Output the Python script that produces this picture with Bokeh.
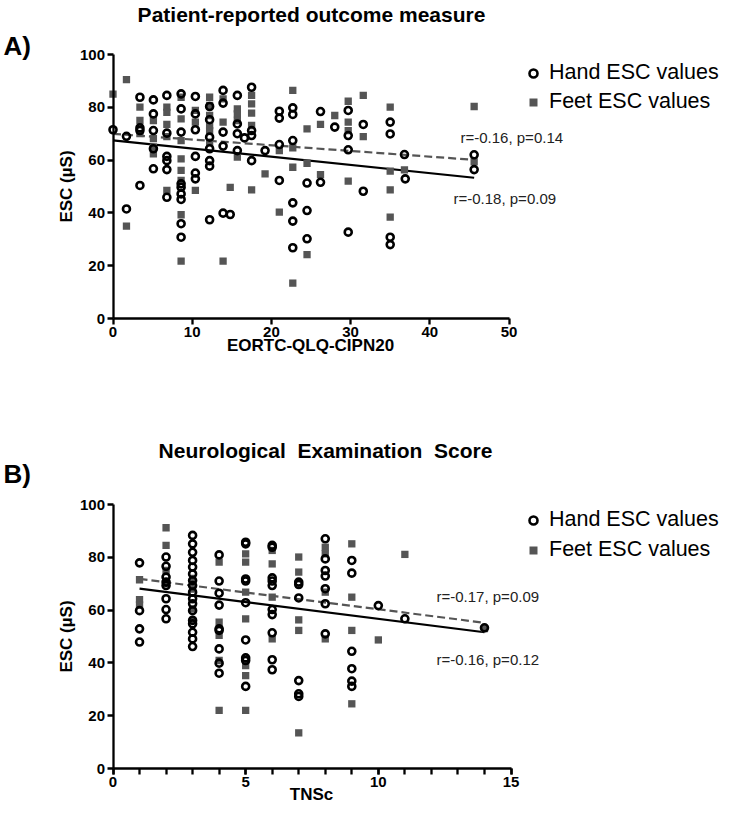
from bokeh.plotting import figure
from bokeh.models import Range1d, FixedTicker, Label, Legend, LegendItem
from bokeh.layouts import column
from bokeh.embed import file_html
from bokeh.resources import INLINE

FONT = "Liberation Sans"

# ---------------- Panel A: EORTC-QLQ-CIPN20 ----------------
a_hand_cols = [
    (0.0, [71.5]),
    (1.7, [69.0, 41.5]),
    (3.4, [83.8, 72.2, 71.2, 50.4]),
    (5.1, [82.8, 77.5, 71.2, 64.3, 56.7]),
    (6.8, [84.5, 70.2, 61.4, 59.8, 56.4, 45.9]),
    (8.6, [85.1, 79.4, 70.6, 51.0, 49.7, 47.2, 45.1, 35.9, 30.8]),
    (10.4, [84.1, 77.5, 71.5, 61.4, 55.1, 52.9]),
    (12.2, [80.3, 75.3, 68.7, 64.3, 59.8, 57.7, 37.4]),
    (13.9, [86.4, 81.6, 70.6, 65.3, 39.9]),
    (14.8, [39.4]),
    (15.7, [84.5, 73.7, 70.0, 63.6]),
    (16.6, [68.4]),
    (17.5, [87.6, 71.2, 69.3, 59.8]),
    (19.2, [63.6]),
    (21.0, [78.5, 75.9, 65.9, 52.3]),
    (22.7, [79.8, 77.3, 67.4, 43.8, 36.9, 26.8]),
    (24.5, [51.3, 40.9, 30.2]),
    (26.2, [78.4, 51.6]),
    (28.0, [72.5]),
    (29.7, [78.8, 69.3, 63.9, 32.7]),
    (31.6, [73.5, 48.2]),
    (35.0, [74.4, 69.9, 30.8, 28.0]),
    (36.8, [62.1]),
    (36.9, [52.9]),
    (45.6, [62.0, 56.4]),
]
a_feet_cols = [
    (0.0, [85.0]),
    (1.7, [90.5, 35.0]),
    (3.4, [80.1, 75.0, 70.0]),
    (5.1, [75.0, 68.1, 64.9, 62.4]),
    (6.8, [80.1, 78.1, 73.5, 68.9, 48.5]),
    (8.6, [83.8, 75.6, 67.4, 60.5, 56.1, 52.3, 39.3, 21.7]),
    (10.4, [78.8, 74.4, 48.5]),
    (12.2, [83.8, 80.7, 76.9, 73.1, 71.2, 66.8]),
    (13.9, [83.2, 74.4, 21.7]),
    (14.8, [49.7]),
    (15.7, [79.4, 77.5, 75.0, 61.1]),
    (17.5, [84.5, 81.3, 77.8, 73.1, 48.7]),
    (19.2, [54.8]),
    (21.0, [63.6, 40.3]),
    (22.7, [86.4, 64.6, 57.3, 13.4]),
    (24.5, [71.8, 58.8, 24.2]),
    (26.2, [73.5, 54.5]),
    (28.0, [76.9]),
    (29.7, [82.3, 74.4, 71.2, 52.0]),
    (31.6, [84.5, 68.9]),
    (35.0, [80.1, 55.8, 48.7, 38.4]),
    (36.8, [56.3]),
    (45.6, [80.3, 59.3]),
]
# regression fits: (intercept, slope, x_start, x_end)
a_fit_hand = (67.5, -0.311, 0.0, 45.6)
a_fit_feet = (69.95, -0.216, 0.0, 45.6)
a_r_hand = "r=-0.18, p=0.09"
a_r_feet = "r=-0.16, p=0.14"
a_x_ticks = [0, 10, 20, 30, 40, 50]
a_x_label = "EORTC-QLQ-CIPN20"
a_title = "Patient-reported outcome measure"

# ---------------- Panel B: TNSc ----------------
b_hand_cols = [
    (1, [77.9, 59.8, 52.9, 47.9]),
    (2, [80.1, 76.6, 72.5, 70.6, 69.3, 64.3, 60.2, 56.7]),
    (3, [88.3, 85.1, 81.9, 78.8, 76.3, 73.7, 71.2, 69.3, 66.8, 64.3, 62.4,
         59.8, 56.1, 54.8, 51.6, 49.1, 46.2]),
    (4, [80.9, 71.0, 66.4, 61.9, 52.9, 52.3, 45.3, 39.9, 36.1]),
    (5, [85.7, 85.1, 71.8, 71.0, 62.8, 48.7, 41.9, 40.9, 31.1]),
    (6, [84.5, 83.8, 72.2, 71.0, 69.3, 60.2, 58.3, 51.4, 41.2, 37.4]),
    (7, [70.6, 69.7, 64.6, 33.3, 28.3, 27.3]),
    (8, [87.0, 79.4, 75.0, 72.9, 68.1, 62.4, 51.0]),
    (9, [78.8, 74.0, 44.4, 37.8, 33.1, 31.1]),
    (10, [61.7]),
    (11, [56.7]),
    (14, [53.3]),
]
b_feet_cols = [
    (1, [71.5, 64.0, 62.0]),
    (2, [91.2, 84.5, 75.0, 70.0]),
    (3, [72.0, 68.0, 60.5, 56.1]),
    (4, [78.2, 55.4, 50.4, 40.9, 22.0]),
    (5, [81.3, 78.2, 66.8, 56.7, 39.0, 35.2, 22.0]),
    (6, [82.6, 77.5, 64.9, 49.1]),
    (7, [80.1, 74.4, 56.3, 52.3, 13.5]),
    (8, [83.8, 81.3, 66.8, 49.1]),
    (9, [85.1, 64.9, 52.3, 24.5]),
    (10, [48.7]),
    (11, [81.1]),
    (14, [53.0]),
]
b_fit_hand = (69.37, -1.269, 1.0, 14.0)
b_fit_feet = (73.08, -1.277, 1.0, 14.0)
b_r_hand = "r=-0.16, p=0.12"
b_r_feet = "r=-0.17, p=0.09"
b_x_ticks = [0, 5, 10, 15]
b_x_minor = list(range(16))
b_x_label = "TNSc"
b_title = "Neurological\u00a0 Examination\u00a0 Score"

y_ticks = [0, 20, 40, 60, 80, 100]
y_label = "ESC (µS)"
legend_labels = ["Hand ESC values", "Feet ESC values"]

PAGE_W = 745


def flatten(cols):
    xs, ys = [], []
    for x, vals in cols:
        for v in vals:
            xs.append(x)
            ys.append(v)
    return xs, ys


def fit_line(fit):
    b0, b1, x0, x1 = fit
    return [x0, x1], [b0 + b1 * x0, b0 + b1 * x1]


def panel(geom, hand_cols, feet_cols, fit_h, fit_f, x_ticks, x_minor,
          x_label, title, letter, r_h, r_f, pos):
    fig_top, fig_h, x0p, y0p, frame_w, x_max_axis = geom
    xu = frame_w / x_max_axis          # px per x unit
    yu = 264 / 100.0                   # px per y unit
    fig_bottom = fig_top + fig_h

    def dx(px):
        return (px - x0p) / xu

    def dy(py):
        return (y0p - py) / yu

    p = figure(width=PAGE_W, height=fig_h,
               x_range=Range1d(dx(0), dx(PAGE_W)),
               y_range=Range1d(dy(fig_bottom), dy(fig_top)),
               output_backend="svg", toolbar_location=None,
               min_border_left=0, min_border_right=0,
               min_border_top=0, min_border_bottom=0)
    p.outline_line_color = None
    p.xgrid.visible = False
    p.ygrid.visible = False
    p.background_fill_color = "white"
    p.border_fill_color = "white"

    p.xaxis.ticker = FixedTicker(ticks=x_ticks, minor_ticks=x_minor)
    p.yaxis.ticker = FixedTicker(ticks=y_ticks, minor_ticks=[])
    p.xaxis.bounds = (0, x_max_axis)
    p.yaxis.bounds = (0, 100)
    p.xaxis.fixed_location = 0
    p.yaxis.fixed_location = 0
    for ax in (p.xaxis[0], p.yaxis[0]):
        ax.axis_line_width = 2.3
        ax.axis_line_color = "black"
        ax.major_tick_line_width = 2.3
        ax.major_tick_out = 6
        ax.major_tick_in = 0
        ax.minor_tick_line_width = 2.3
        ax.minor_tick_out = 6
        ax.minor_tick_in = 0
        ax.major_label_text_font = FONT
        ax.major_label_text_font_size = "15px"
        ax.major_label_text_font_style = "bold"
        ax.major_label_text_color = "black"
        ax.major_label_standoff = 2
    p.yaxis.major_label_orientation = "horizontal"

    lx, ly = fit_line(fit_h)
    p.line(lx, ly, line_color="black", line_width=2.2)
    lx, ly = fit_line(fit_f)
    p.line(lx, ly, line_color="#555555", line_width=2.2, line_dash="8 4")

    fx, fy = flatten(feet_cols)
    sq = p.scatter(fx, fy, marker="square", size=7.3, fill_color="#555555",
                   line_color=None)
    hx, hy = flatten(hand_cols)
    ci = p.scatter(hx, hy, marker="circle", size=7.0, fill_color=None,
                   line_color="black", line_width=2.6)

    # legend (bottom-left corner given in screen px from the frame's bottom-left)
    pad, row, gap = 4, 24, pos["leg_gap"]
    leg_h = 2 * pad + 2 * row + gap
    legend = Legend(items=[LegendItem(label=legend_labels[0], renderers=[ci]),
                           LegendItem(label=legend_labels[1], renderers=[sq])],
                    location=(pos["leg_left"] - pad,
                              fig_bottom - (pos["leg_top"] + leg_h)),
                    border_line_color=None, background_fill_alpha=0,
                    label_text_font=FONT, label_text_font_size="21.5px",
                    label_text_color="black",
                    glyph_width=20, glyph_height=row, label_height=row,
                    spacing=gap, padding=pad, margin=0, label_standoff=6)
    p.add_layout(legend, "center")

    def text(px, py, s, size, bold=False, align="left", angle=0.0, color="black"):
        p.add_layout(Label(x=dx(px), y=dy(py), text=s, text_font=FONT,
                           text_font_size=size,
                           text_font_style="bold" if bold else "normal",
                           text_color=color, text_align=align,
                           text_baseline="middle", angle=angle))

    text(*pos["title"], title, "21px", bold=True, align="center")
    text(*pos["letter"], letter, "26px", bold=True)
    text(*pos["xlabel"], x_label, "17px", bold=True, align="center")
    text(*pos["ylabel"], y_label, "17px", bold=True, align="center", angle=1.5708)
    text(*pos["r_feet"], r_f, "15px", color="#222222")
    text(*pos["r_hand"], r_h, "15px", color="#222222")
    return p


pos_a = dict(title=(311, 14), letter=(3, 45), xlabel=(310, 345), ylabel=(66, 186),
             r_feet=(460, 137), r_hand=(453, 198), leg_left=527, leg_top=54, leg_gap=4)
pos_b = dict(title=(325, 450), letter=(3, 473), xlabel=(311, 794), ylabel=(66, 636),
             r_feet=(436, 596), r_hand=(436, 659), leg_left=527, leg_top=501, leg_gap=5)

# geometry: (figure top on page, figure height, x-origin px, y-origin px, axis length px, axis max)
geom_a = (0, 378, 112.5, 318, 396, 50)
geom_b = (378, 448, 112.5, 768, 398, 15)

pa = panel(geom_a, a_hand_cols, a_feet_cols, a_fit_hand, a_fit_feet, a_x_ticks, [],
           a_x_label, a_title, "A)", a_r_hand, a_r_feet, pos_a)
pb = panel(geom_b, b_hand_cols, b_feet_cols, b_fit_hand, b_fit_feet, b_x_ticks, b_x_minor,
           b_x_label, b_title, "B)", b_r_hand, b_r_feet, pos_b)

layout = column(pa, pb, spacing=0)
open("out.html", "w").write(file_html(layout, INLINE))
